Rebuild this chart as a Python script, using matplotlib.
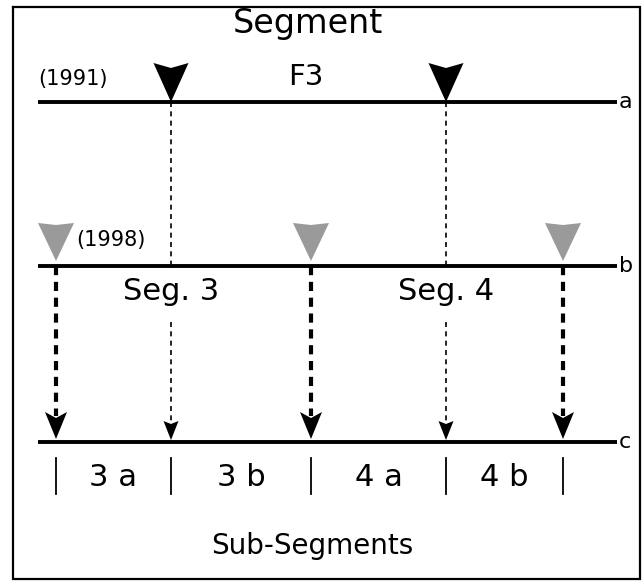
import matplotlib
matplotlib.use("Agg")
import matplotlib.pyplot as plt

# ---- data ----
line_labels = ["a", "b", "c"]
line_y = [102, 266, 442]              # vertical level of each line (1991, 1998, result)
breaks_1991 = [171, 446]              # old segment boundaries (black markers)
breaks_1998 = [56, 311, 563]          # new boundaries (grey markers)
seg_labels = ["Seg. 3", "Seg. 4"]
subseg_labels = ["3 a", "3 b", "4 a", "4 b"]

plt.rcParams["font.family"] = ["DejaVu Sans"]

fig = plt.figure(figsize=(6.44, 5.82), dpi=100)
ax = fig.add_axes([0, 0, 1, 1])
ax.set_xlim(0, 644)
ax.set_ylim(582, 0)
ax.axis("off")

# border
ax.plot([13, 640, 640, 13, 13], [7, 7, 579, 579, 7], color="black", lw=1.6, solid_joinstyle="miter")

x0, x1 = 38, 617
ya, yb, yc = line_y
for lab, y in zip(line_labels, line_y):
    ax.plot([x0, x1], [y, y], color="black", lw=2.8, solid_capstyle="butt", zorder=3)
    ax.text(x1 + 2, y, lab, ha="left", va="center", fontsize=16, zorder=4)

def down_tri(x, tip, w, h, color, notch=0.0, z=5):
    top = tip - h
    xs = [x - w / 2, x, x + w / 2, x]
    ys = [top, top + notch, top, tip]
    ax.fill(xs, ys, color=color, lw=0, zorder=z)

# 1991 markers and thin dotted lines to line c
for xb in breaks_1991:
    down_tri(xb, ya, 35, 39, "black", notch=5)
    ax.plot([xb, xb], [ya, yb], color="black", lw=1.2, dashes=(3.0, 2.6), zorder=2)
    ax.plot([xb, xb], [322, yc - 18], color="black", lw=1.2, dashes=(3.0, 2.6), zorder=2)
    down_tri(xb, yc - 2, 15, 19, "black", notch=3)

# 1998 markers and thick dashed lines to line c
for xb in breaks_1998:
    down_tri(xb, yb - 5, 36, 38, "#9a9a9a", notch=2)
    ax.plot([xb, xb], [yb, yc - 26], color="black", lw=3.0, dashes=(2.2, 1.6), zorder=2)
    down_tri(xb, yc - 3, 22, 27, "black", notch=6)

# titles and labels
ax.text(308, 24, "Segment", ha="center", va="center", fontsize=24)
ax.text(306, 77, "F3", ha="center", va="center", fontsize=21)
ax.text(38, 79, "(1991)", ha="left", va="center", fontsize=15)
ax.text(76, 240, "(1998)", ha="left", va="center", fontsize=15)
for xs, lab in zip(breaks_1991, seg_labels):
    ax.text(xs, 291, lab, ha="center", va="center", fontsize=22, zorder=4)

# sub-segment ticks and labels
bounds = sorted(breaks_1991 + breaks_1998)
for xb in bounds:
    ax.plot([xb, xb], [458, 494], color="black", lw=1.3)
for lo, hi, lab in zip(bounds[:-1], bounds[1:], subseg_labels):
    ax.text((lo + hi) / 2, 477, lab, ha="center", va="center", fontsize=22)

ax.text(312, 546, "Sub-Segments", ha="center", va="center", fontsize=20)

fig.savefig("out.png", dpi=100)
